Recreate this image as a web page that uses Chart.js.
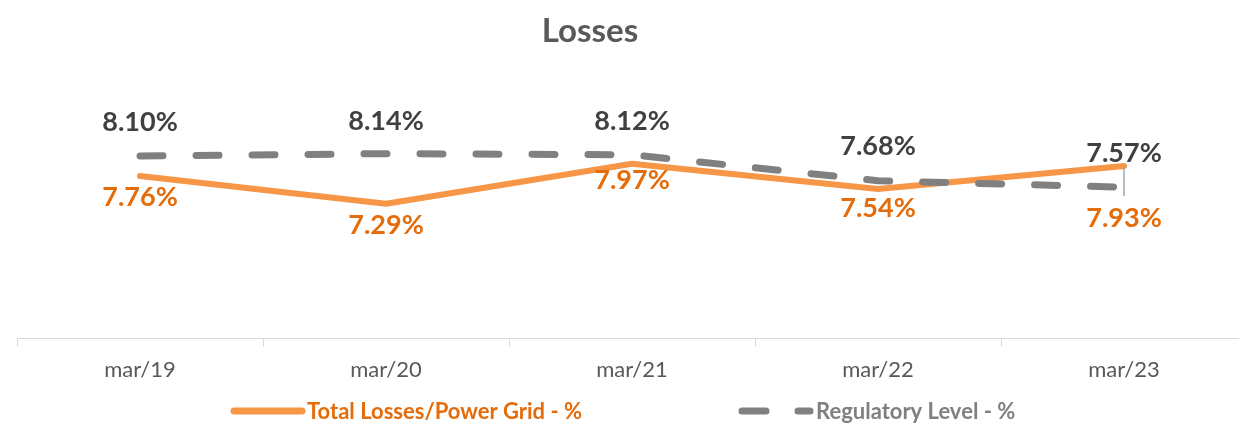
<!DOCTYPE html>
<html>
<head>
<meta charset="utf-8">
<script src="https://cdn.jsdelivr.net/npm/chart.js@4.4.1/dist/chart.umd.min.js"></script>
<style>
    html, body { margin: 0; padding: 0; background: #fff; overflow: hidden; }
    #wrap { width: 1260px; height: 426px; }
</style>
</head>
<body>
<div id="wrap"><canvas id="grafico" width="1260" height="426"></canvas></div>
<script>
const categorias = ['mar/19', 'mar/20', 'mar/21', 'mar/22', 'mar/23'];
const perdasTotais = [7.76, 7.29, 7.97, 7.54, 7.93];
const nivelRegulatorio = [8.10, 8.14, 8.12, 7.68, 7.57];
const tituloGrafico = 'Losses';
const nomeSerie1 = 'Total Losses/Power Grid - %';
const nomeSerie2 = 'Regulatory Level - %';

// deslocamento dos rotulos (linha de base) em relacao ao ponto
const offsetRotuloLaranja = [30, 30, 25, 28, 61];
const offsetRotuloCinza = [-25, -24, -25, -26, -25];

const corLaranja = '#F79646';
const corTextoLaranja = '#E46C0A';
const corCinza = '#808080';
const corTextoCinza = '#404040';

const decoracao = {
    id: 'decoracao',
    afterDatasetsDraw(chart) {
        const ctx = chart.ctx;
        const x = chart.scales.x;
        const y = chart.scales.y;
        ctx.save();

        // titulo
        ctx.fillStyle = '#595959';
        ctx.font = 'bold 33px Lato';
        ctx.textAlign = 'center';
        ctx.textBaseline = 'alphabetic';
        ctx.fillText(tituloGrafico, 590, 42);

        // linha de chamada do ultimo rotulo
        const ult = perdasTotais.length - 1;
        const xu = x.getPixelForValue(ult);
        const yu = y.getPixelForValue(perdasTotais[ult]);
        ctx.strokeStyle = '#A6A6A6';
        ctx.lineWidth = 1.5;
        ctx.beginPath();
        ctx.moveTo(xu, yu);
        ctx.lineTo(xu, yu + 30);
        ctx.stroke();

        // rotulos de dados
        ctx.font = 'bold 27px Lato';
        for (let i = 0; i < categorias.length; i++) {
            const px = x.getPixelForValue(i);
            ctx.fillStyle = corTextoCinza;
            ctx.fillText(nivelRegulatorio[i].toFixed(2) + '%', px, y.getPixelForValue(nivelRegulatorio[i]) + offsetRotuloCinza[i]);
            ctx.fillStyle = corTextoLaranja;
            ctx.fillText(perdasTotais[i].toFixed(2) + '%', px, y.getPixelForValue(perdasTotais[i]) + offsetRotuloLaranja[i]);
        }

        // legenda
        ctx.lineCap = 'round';
        ctx.lineWidth = 7;
        ctx.strokeStyle = corLaranja;
        ctx.beginPath();
        ctx.moveTo(234, 411);
        ctx.lineTo(302, 411);
        ctx.stroke();
        ctx.strokeStyle = corCinza;
        ctx.beginPath();
        ctx.moveTo(742, 411);
        ctx.lineTo(766, 411);
        ctx.moveTo(798, 411);
        ctx.lineTo(810, 411);
        ctx.stroke();

        ctx.font = 'bold 22px Lato';
        ctx.textAlign = 'left';
        ctx.fillStyle = corTextoLaranja;
        ctx.fillText(nomeSerie1, 307, 419);
        ctx.fillStyle = corCinza;
        ctx.fillText(nomeSerie2, 816, 419);

        ctx.restore();
    }
};

const ctx1 = document.getElementById('grafico');

new Chart(ctx1, {
    type: 'line',
    data: {
        labels: categorias,
        datasets: [
            {
                label: nomeSerie2,
                data: nivelRegulatorio,
                borderColor: corCinza,
                backgroundColor: corCinza,
                borderWidth: 7,
                borderDash: [23, 33],
                borderCapStyle: 'round',
                pointRadius: 0,
                tension: 0,
                order: 0
            },
            {
                label: nomeSerie1,
                data: perdasTotais,
                borderColor: corLaranja,
                backgroundColor: corLaranja,
                borderWidth: 6,
                borderCapStyle: 'round',
                borderJoinStyle: 'round',
                pointRadius: 0,
                tension: 0,
                order: 1
            }
        ]
    },
    options: {
        responsive: false,
        animation: false,
        devicePixelRatio: 1,
        layout: {
            padding: { top: 103, left: 17, right: 13, bottom: 33 }
        },
        scales: {
            x: {
                offset: true,
                grid: {
                    display: true,
                    drawOnChartArea: false,
                    offset: true,
                    tickLength: 8,
                    color: '#D9D9D9'
                },
                border: { color: '#D9D9D9', width: 1 },
                ticks: {
                    color: '#595959',
                    padding: 10,
                    font: { family: 'Lato', size: 22 }
                }
            },
            y: {
                display: false,
                min: 5,
                max: 9
            }
        },
        plugins: {
            legend: { display: false },
            title: { display: false },
            tooltip: { enabled: false }
        }
    },
    plugins: [decoracao]
});
</script>
</body>
</html>
